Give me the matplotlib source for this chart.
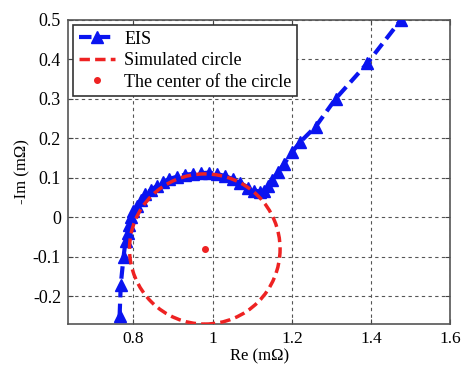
import numpy as np
import matplotlib.pyplot as plt
from matplotlib.patches import Circle
from matplotlib.lines import Line2D

plt.rcParams['font.family'] = ['Liberation Serif', 'DejaVu Serif']

# EIS measurement (Re, -Im) in mOhm
eis_re = [0.765, 0.768, 0.775, 0.780, 0.785, 0.790, 0.795, 0.800, 0.810, 0.820,
          0.830, 0.845, 0.860, 0.875, 0.890, 0.910, 0.930, 0.950, 0.970, 0.990,
          1.010, 1.030, 1.050, 1.070, 1.090, 1.105, 1.120, 1.130, 1.140, 1.150,
          1.165, 1.180, 1.200, 1.220, 1.260, 1.310, 1.390, 1.475]
eis_im = [-0.250, -0.170, -0.100, -0.060, -0.040, -0.020, 0.000, 0.015, 0.030, 0.045,
          0.058, 0.070, 0.080, 0.090, 0.097, 0.103, 0.108, 0.110, 0.112, 0.113,
          0.110, 0.105, 0.097, 0.087, 0.075, 0.068, 0.065, 0.068, 0.080, 0.095,
          0.115, 0.135, 0.165, 0.190, 0.230, 0.300, 0.390, 0.500]

# fitted circle
center_re = 0.98
center_im = -0.08
radius = 0.19

blue = '#0a14f0'
red = '#ee2222'

fig = plt.figure(figsize=(4.63, 3.67), dpi=100)
ax = fig.add_axes([0.147, 0.117, 0.826, 0.829])

ax.plot(eis_re, eis_im, ls=(0, (3, 1.5)), color=blue, lw=3, marker='^', ms=8,
        zorder=3)
circ = Circle((center_re, center_im), radius, fill=False, ls=(0, (3, 1.5)),
              lw=2.5, color=red, zorder=4)
ax.add_patch(circ)
ax.plot([center_re], [center_im], 'o', color=red, ms=4, zorder=5)

ax.set_xlim(0.635, 1.6)
ax.set_ylim(-0.27, 0.5)
ax.set_xticks([0.8, 1, 1.2, 1.4, 1.6])
ax.set_xticklabels(['0.8', '1', '1.2', '1.4', '1.6'])
ax.set_yticks([-0.2, -0.1, 0, 0.1, 0.2, 0.3, 0.4, 0.5])
ax.set_yticklabels(['-0.2', '-0.1', '0', '0.1', '0.2', '0.3', '0.4', '0.5'])
ax.grid(True, ls=(0, (3, 3)), color='#555555', lw=0.8)
ax.tick_params(direction='in', top=True, right=True, labelsize=13,
               color='#444444', pad=5)
ax.tick_params(axis='x', labelsize=12.5)
for s in ax.spines.values():
    s.set_color('#555555')
    s.set_linewidth(1.2)
ax.set_xlabel('Re (mΩ)', fontsize=12, labelpad=1)
ax.set_ylabel('-Im (mΩ)', fontsize=12, labelpad=2)

handles = [
    Line2D([], [], ls=(0, (3, 1.5)), color=blue, lw=3, marker='^', ms=8),
    Line2D([], [], ls=(0, (3, 1.5)), color=red, lw=2.5),
    Line2D([], [], ls='none', color=red, marker='o', ms=4),
]
labels = ['EIS', 'Simulated circle', 'The center of the circle']
leg = ax.legend(handles, labels, loc='upper left', fontsize=13, frameon=True,
                fancybox=False, edgecolor='#333333', framealpha=1,
                borderaxespad=0.3, handlelength=2.0, labelspacing=0.25,
                borderpad=0.3, handletextpad=0.5)
leg.get_frame().set_linewidth(1.2)

fig.savefig('out.png', dpi=100)
